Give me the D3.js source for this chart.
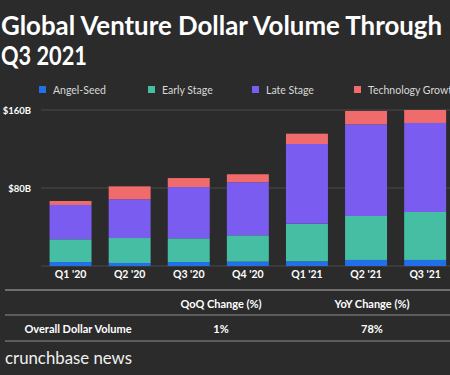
<!DOCTYPE html>
<html><head><meta charset="utf-8">
<script src="https://cdn.jsdelivr.net/npm/d3@7"></script>
<style>
html,body{margin:0;padding:0;background:#2b2b2b;overflow:hidden;}
svg{display:block;font-family:"Lato","Open Sans",sans-serif;}
</style></head>
<body>
<script>
const categories = ["Q1 '20","Q2 '20","Q3 '20","Q4 '20","Q1 '21","Q2 '21","Q3 '21"];
const seriesNames = ["Angel-Seed","Early Stage","Late Stage","Technology Growth"];
const angelSeed = [4.1, 3.1, 4.1, 4.5, 4.8, 6.2, 6.2];
const earlyStage = [23.3, 25.6, 24.3, 27.0, 38.6, 45.1, 49.2];
const lateStage = [35.2, 39.7, 52.6, 54.4, 81.7, 94.0, 91.3];
const techGrowth = [4.1, 13.3, 9.2, 8.2, 10.6, 13.7, 13.3];
const yTicks = [80, 160];
const tableHeaders = ["QoQ Change (%)", "YoY Change (%)"];
const tableRowLabel = "Overall Dollar Volume";
const tableRowValues = ["1%", "78%"];
const colors = ["#2170ea","#46bea3","#7b5cf0","#f06b6b"];

const W = 450, H = 375;
const svg = d3.select("body").append("svg").attr("width", W).attr("height", H);
svg.append("rect").attr("width", W).attr("height", H).attr("fill", "#2b2b2b");

// Title
const title = svg.append("g").attr("fill", "#ffffff").attr("font-weight", "bold")
  .attr("font-size", 27);
title.append("text").attr("x", 1).attr("y", 35)
  .attr("textLength", 441).attr("lengthAdjust", "spacingAndGlyphs")
  .text("Global Venture Dollar Volume Through");
title.append("text").attr("x", 1).attr("y", 65)
  .attr("textLength", 86).attr("lengthAdjust", "spacingAndGlyphs")
  .text("Q3 2021");

// Legend
const legendX = [39, 148, 252, 354];
const lg = svg.append("g");
seriesNames.forEach((n, i) => {
  lg.append("rect").attr("x", legendX[i]).attr("y", 86).attr("width", 7).attr("height", 7).attr("fill", colors[i]);
  lg.append("text").attr("x", legendX[i] + 14).attr("y", 93.5)
    .attr("fill", "#d8d8d8").attr("font-size", 10.5).text(n);
});

// Scales
const x = d3.scaleBand().domain(categories).range([41, 454.7]).paddingInner(0.29).paddingOuter(0.145);
const y = d3.scaleLinear().domain([0, 160]).range([266, 110]);

// Grid
const grid = svg.append("g");
grid.append("line").attr("x1", 41).attr("x2", W).attr("y1", y(0)).attr("y2", y(0)).attr("stroke", "#4a4a4a").attr("stroke-width", 1);
yTicks.forEach(t => {
  grid.append("line").attr("x1", 41).attr("x2", W).attr("y1", y(t)).attr("y2", y(t)).attr("stroke", "#4a4a4a").attr("stroke-width", 1);
  grid.append("text").attr("x", 31).attr("y", y(t) + 3.5).attr("text-anchor", "end")
    .attr("fill", "#ffffff").attr("font-weight", "bold").attr("font-size", 9.5).text("$" + t + "B");
});

// Stack
const data = categories.map((c, i) => ({cat: c, "Angel-Seed": angelSeed[i], "Early Stage": earlyStage[i], "Late Stage": lateStage[i], "Technology Growth": techGrowth[i]}));
const stacked = d3.stack().keys(seriesNames)(data);
svg.append("g").selectAll("g").data(stacked).join("g")
  .attr("fill", (d, i) => colors[i])
  .selectAll("rect").data(d => d).join("rect")
  .attr("x", d => x(d.data.cat)).attr("width", x.bandwidth())
  .attr("y", d => y(d[1])).attr("height", d => y(d[0]) - y(d[1]));

// X axis labels
const xa = svg.append("g").attr("transform", "translate(0,266)")
  .call(d3.axisBottom(x).tickSize(0).tickPadding(5));
xa.select(".domain").remove();
xa.selectAll("text").attr("fill", "#ffffff").attr("font-size", 10.5).attr("font-weight", "bold")
  .attr("font-family", "Lato, 'Open Sans', sans-serif");

// Table
const tb = svg.append("g");
[[290, 2], [315, 1.5], [341, 1.5]].forEach(([yy, sw]) => {
  tb.append("line").attr("x1", 5).attr("x2", W).attr("y1", yy).attr("y2", yy).attr("stroke", "#6e6e6e").attr("stroke-width", sw);
});
const colX = [221, 372];
tableHeaders.forEach((h, i) => {
  tb.append("text").attr("x", colX[i]).attr("y", 307.5).attr("text-anchor", "middle")
    .attr("fill", "#ffffff").attr("font-size", 11).attr("font-weight", "bold").text(h);
});
tb.append("text").attr("x", 78).attr("y", 332.5).attr("text-anchor", "middle")
  .attr("fill", "#ffffff").attr("font-size", 11).attr("font-weight", "bold").text(tableRowLabel);
tableRowValues.forEach((v, i) => {
  tb.append("text").attr("x", colX[i]).attr("y", 332.5).attr("text-anchor", "middle")
    .attr("fill", "#ffffff").attr("font-size", 11).attr("font-weight", "bold").text(v);
});

// Brand
svg.append("text").attr("x", 5).attr("y", 364).attr("fill", "#f0f0f0").attr("font-size", 17)
  .attr("textLength", 127).attr("lengthAdjust", "spacingAndGlyphs")
  .text("crunchbase news");
</script>
</body></html>
